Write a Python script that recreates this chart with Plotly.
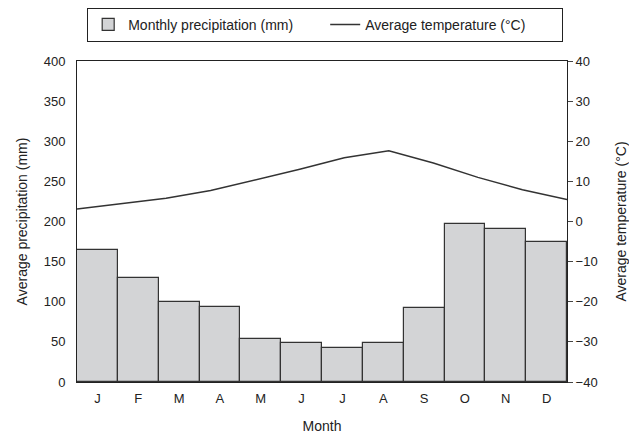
import plotly.graph_objects as go

months = ["Jan", "Feb", "Mar", "Apr", "May", "Jun", "Jul", "Aug", "Sep", "Oct", "Nov", "Dec"]
month_labels = ["J", "F", "M", "A", "M", "J", "J", "A", "S", "O", "N", "D"]
precipitation_mm = [165, 130, 100, 93, 54, 49, 42, 48, 92, 197, 191, 175]
temperature_c = [3.1, 4.4, 5.8, 7.7, 10.3, 13.0, 15.9, 17.6, 14.6, 11.0, 7.9, 5.5]
temp_index = list(range(len(months)))

FONT = "Liberation Sans, Arial, Helvetica, sans-serif"
TXT = "#222222"

fig = go.Figure()
fig.add_trace(go.Bar(
    x=months, y=precipitation_mm, name="Monthly precipitation (mm)",
    marker=dict(color="#d3d4d6", line=dict(color="#333333", width=1.2)),
    xaxis="x", yaxis="y",
))
fig.add_trace(go.Scatter(
    x=temp_index, y=temperature_c, name="Average temperature (°C)",
    mode="lines", line=dict(color="#333333", width=1.5),
    xaxis="x2", yaxis="y2",
))

fig.update_layout(
    width=629, height=434,
    margin=dict(l=77, r=62, t=61, b=52, autoexpand=False),
    paper_bgcolor="white", plot_bgcolor="white",
    font=dict(family=FONT, size=13, color=TXT),
    bargap=0,
    showlegend=True,
    legend=dict(
        orientation="h", xref="container", yref="container",
        x=0.517, xanchor="center", y=0.982, yanchor="top",
        bordercolor="#222222", borderwidth=1, bgcolor="white",
        font=dict(size=14, color=TXT),
        entrywidth=192, entrywidthmode="pixels",
    ),
    xaxis=dict(
        type="category", categoryorder="array", categoryarray=months,
        tickmode="array", tickvals=months, ticktext=month_labels,
        range=[-0.5, 11.5], showgrid=False, zeroline=False,
        showline=True, linecolor="#222222", linewidth=1, mirror=True,
        ticks="", ticklabelstandoff=4,
        title=dict(text="Month", font=dict(size=14), standoff=18),
    ),
    xaxis2=dict(overlaying="x", range=[0, 11], visible=False),
    yaxis=dict(
        range=[0, 400], dtick=50, showgrid=False, zeroline=False,
        showline=True, linecolor="#222222", linewidth=1, mirror=True,
        ticks="", ticklabelstandoff=8,
        title=dict(text="Average precipitation (mm)", font=dict(size=14), standoff=12),
    ),
    yaxis2=dict(
        overlaying="y", side="right", range=[-40, 40], dtick=10,
        showgrid=False, zeroline=False, showline=False,
        ticks="outside", ticklen=5, tickcolor="#444444",
        title=dict(text="Average temperature (°C)", font=dict(size=14), standoff=20),
    ),
)

fig.write_html("out.html", config={"displayModeBar": False},
               post_script="document.body.style.margin='0';document.body.style.overflow='hidden';")
